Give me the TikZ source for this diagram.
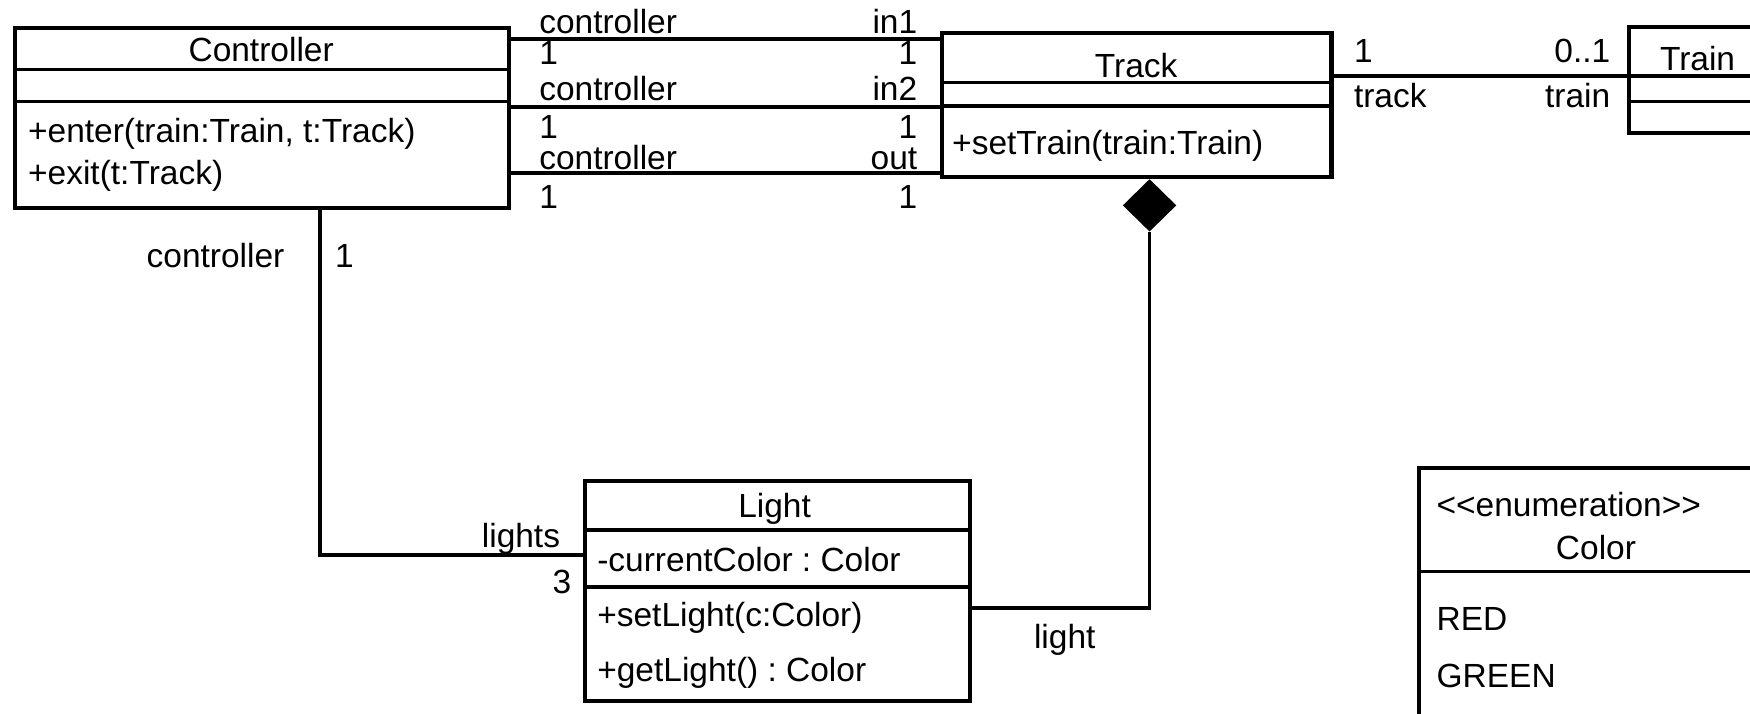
\documentclass[tikz,border=0pt]{standalone}
\usepackage{fontspec}
\newfontfamily\umlfont{Liberation Sans}
\usetikzlibrary{shapes.geometric}
\frenchspacing
\tikzset{
 txt/.style={font=\umlfont\fontsize{30}{36}\selectfont, inner sep=0pt, text height=21.5pt, text depth=0pt},
 lt/.style={txt, anchor=west},
 rt/.style={txt, anchor=east},
 ct/.style={txt, anchor=center},
 classbox/.style={draw, line width=3.6pt, anchor=north west, inner sep=0pt, outer sep=0pt, fill=white},
 divider/.style={line width=3pt},
 assoc/.style={line width=3.3pt},
 comp/.style={diamond, fill=black, draw=none, inner sep=0pt, minimum width=48pt, minimum height=47pt}
}
\begin{document}
\begin{tikzpicture}[x=1pt,y=-1pt]
\useasboundingbox (0,0) rectangle (1568,639);
\fill[white] (0,0) rectangle (1568,639);
\clip (0,0) rectangle (1568,639);

% Controller
\node[classbox, minimum width=443pt, minimum height=161pt] (ctrl) at (13,25) {};
\draw[divider] ([yshift=-37pt]ctrl.north west) -- ([yshift=-37pt]ctrl.north east);
\draw[divider] ([yshift=-66pt]ctrl.north west) -- ([yshift=-66pt]ctrl.north east);
\node[ct] (ctrlname) at (234,44) {Controller};
\node[lt] (ctrlop1) at (25,117) {+enter(train:Train, t:Track)};
\node[lt] (ctrlop2) at (25,155) {+exit(t:Track)};

% Track
\node[classbox, minimum width=349pt, minimum height=129pt] (track) at (844,30) {};
\draw[divider] ([yshift=-44pt]track.north west) -- ([yshift=-44pt]track.north east);
\draw[divider] ([yshift=-65pt]track.north west) -- ([yshift=-65pt]track.north east);
\node[ct] (trackname) at (1018,59) {Track};
\node[lt] (trackop1) at (853,128) {+setTrain(train:Train)};

% Train
\node[classbox, minimum width=122pt, minimum height=95pt] (train) at (1460,24) {};
\draw[divider] ([yshift=-44pt]train.north west) -- ([yshift=-44pt]train.north east);
\draw[divider] ([yshift=-67pt]train.north west) -- ([yshift=-67pt]train.north east);
\node[ct] (trainname) at (1521,52) {Train};

% Light
\node[classbox, minimum width=345pt, minimum height=197pt] (light) at (524,431) {};
\draw[divider] ([yshift=-44pt]light.north west) -- ([yshift=-44pt]light.north east);
\draw[divider] ([yshift=-95pt]light.north west) -- ([yshift=-95pt]light.north east);
\node[ct] (lightname) at (694,453) {Light};
\node[lt] (lightattr) at (535,501) {-currentColor : Color};
\node[lt] (lightop1) at (535,551) {+setLight(c:Color)};
\node[lt] (lightop2) at (535,600) {+getLight() : Color};

% Color
\node[classbox, minimum width=320pt, minimum height=300pt] (color) at (1271,419) {};
\draw[divider] ([yshift=-93pt]color.north west) -- ([yshift=-93pt]color.north east);
\node[lt] (colorst) at (1287,452) {<<enumeration>>};
\node[ct] (colorname) at (1430,491) {Color};
\node[lt] (colorred) at (1287,554) {RED};
\node[lt] (colorgreen) at (1287,605) {GREEN};

% connector guides
\coordinate (r1) at (0,35);
\coordinate (r2) at (0,96);
\coordinate (r3) at (0,155);
\coordinate (r4) at (0,68);
\coordinate (r5) at (287,0);
\coordinate (r6) at (0,497);
\coordinate (r7) at (0,545);

\draw[assoc] (ctrl.east |- r1) -- (track.west |- r1);
\draw[assoc] (ctrl.east |- r2) -- (track.west |- r2);
\draw[assoc] (ctrl.east |- r3) -- (track.west |- r3);
\draw[assoc] (track.east |- r4) -- (train.west |- r4);
\node[comp] (dia) at (1030,184) {};
\draw[assoc] (dia.south) |- (light.east |- r7);
\draw[assoc] (ctrl.south -| r5) |- (light.west |- r6);

% association labels
\node[lt] (l1a) at (483,19) {controller};
\node[rt] (l1b) at (822,19) {in1};
\node[lt] (l1c) at (483,47) {1};
\node[rt] (l1d) at (822,47) {1};
\node[lt] (l2a) at (483,79) {controller};
\node[rt] (l2b) at (822,79) {in2};
\node[lt] (l2c) at (483,113) {1};
\node[rt] (l2d) at (822,113) {1};
\node[lt] (l3a) at (483,141) {controller};
\node[rt] (l3b) at (822,141) {out};
\node[lt] (l3c) at (483,176) {1};
\node[rt] (l3d) at (822,176) {1};
\node[lt] (l4a) at (1213,45) {1};
\node[rt] (l4b) at (1443,45) {0..1};
\node[lt] (l4c) at (1213,86) {track};
\node[rt] (l4d) at (1443,86) {train};
\node[rt] (l5a) at (255,229) {controller};
\node[lt] (l5b) at (300,229) {1};
\node[rt] (l5c) at (502,480) {lights};
\node[rt] (l5d) at (512,521) {3};
\node[ct] (l6a) at (954,570) {light};
\end{tikzpicture}
\end{document}
